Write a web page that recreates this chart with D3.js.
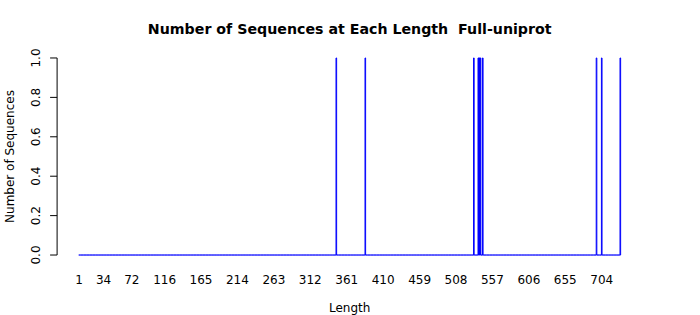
<!DOCTYPE html>
<html>
<head>
<meta charset="utf-8">
<script src="https://cdn.jsdelivr.net/npm/d3@7"></script>
<style>
  body { margin: 0; background: #fff; }
  text { font-family: "DejaVu Sans", sans-serif; }
</style>
</head>
<body>
<div id="chart"></div>
<script>
// lengths that occur (count per length), everything else up to maxLength is 0
const maxLength = 729;
const seqLengths = [347, 386, 532, 538, 539, 540, 541, 544, 697, 704, 729];
const seqCounts  = [1, 1, 1, 1, 1, 1, 1, 1, 1, 1, 1];
const xTickLabels = [1, 34, 72, 116, 165, 214, 263, 312, 361, 410, 459, 508, 557, 606, 655, 704];
const yTicks = [0, 0.2, 0.4, 0.6, 0.8, 1.0];

const width = 700,
  height = 315;

const svg = d3.select("#chart")
  .append("svg")
  .attr("width", width)
  .attr("height", height);

// one bar per length, like barplot(table(factor(len, levels = 1:max)))
const counts = new Map(seqLengths.map((l, i) => [l, seqCounts[i]]));
const bars = d3.range(1, maxLength + 1).map((l, i) => ({
  len: l,
  count: counts.get(l) || 0,
  left: 0.2 + i * 1.2
}));

// barplot coordinates, plus the 4% padding
const x0 = 0.2, x1 = maxLength * 1.2;
const pad = (x1 - x0) * 0.04;
const x = d3.scaleLinear()
  .domain([x0 - pad, x1 + pad])
  .range([57.1, 642.3]);

const y = d3.scaleLinear()
  .domain([-0.04, 1.04])
  .range([262.9, 50.1]);

// bars as paths so the zero-height ones still draw the baseline
svg.append("g")
  .selectAll("path")
  .data(bars)
  .enter()
  .append("path")
  .attr("d", d => {
    const p = d3.path();
    const xl = x(d.left), xr = x(d.left + 1);
    p.moveTo(xl, y(0));
    p.lineTo(xr, y(0));
    p.lineTo(xr, y(d.count));
    p.lineTo(xl, y(d.count));
    p.closePath();
    return p.toString();
  })
  .attr("fill", "none")
  .attr("stroke", "#0000ff")
  .attr("stroke-width", 1);

// y axis
const yAxis = svg.append("g");
yAxis.append("line")
  .attr("x1", x(x0 - pad)).attr("x2", x(x0 - pad))
  .attr("y1", y(0)).attr("y2", y(1))
  .attr("stroke", "#000");
yAxis.selectAll(".tick")
  .data(yTicks)
  .enter()
  .append("line")
  .attr("x1", x(x0 - pad)).attr("x2", x(x0 - pad) - 7)
  .attr("y1", d => y(d)).attr("y2", d => y(d))
  .attr("stroke", "#000");
yAxis.selectAll(".lab")
  .data(yTicks)
  .enter()
  .append("text")
  .attr("transform", d => "translate(40," + y(d) + ") rotate(-90)")
  .attr("text-anchor", "middle")
  .style("font-size", "12px")
  .text(d => d.toFixed(1));

// x labels (only the ones R kept)
svg.append("g")
  .selectAll("text")
  .data(xTickLabels)
  .enter()
  .append("text")
  .attr("x", d => x(0.2 + (d - 1) * 1.2 + 0.5))
  .attr("y", 283.5)
  .attr("text-anchor", "middle")
  .style("font-size", "12px")
  .text(d => d);

const midX = (x(x0 - pad) + x(x1 + pad)) / 2;

svg.append("text")
  .attr("x", midX)
  .attr("y", 34)
  .attr("text-anchor", "middle")
  .style("font-size", "14.2px")
  .style("font-weight", "bold")
  .style("white-space", "pre")
  .text("Number of Sequences at Each Length  Full-uniprot");

svg.append("text")
  .attr("x", midX)
  .attr("y", 311.5)
  .attr("text-anchor", "middle")
  .style("font-size", "12px")
  .text("Length");

svg.append("text")
  .attr("transform", "translate(13.5," + (y(-0.04) + y(1.04)) / 2 + ") rotate(-90)")
  .attr("text-anchor", "middle")
  .style("font-size", "12px")
  .text("Number of Sequences");
</script>
</body>
</html>
